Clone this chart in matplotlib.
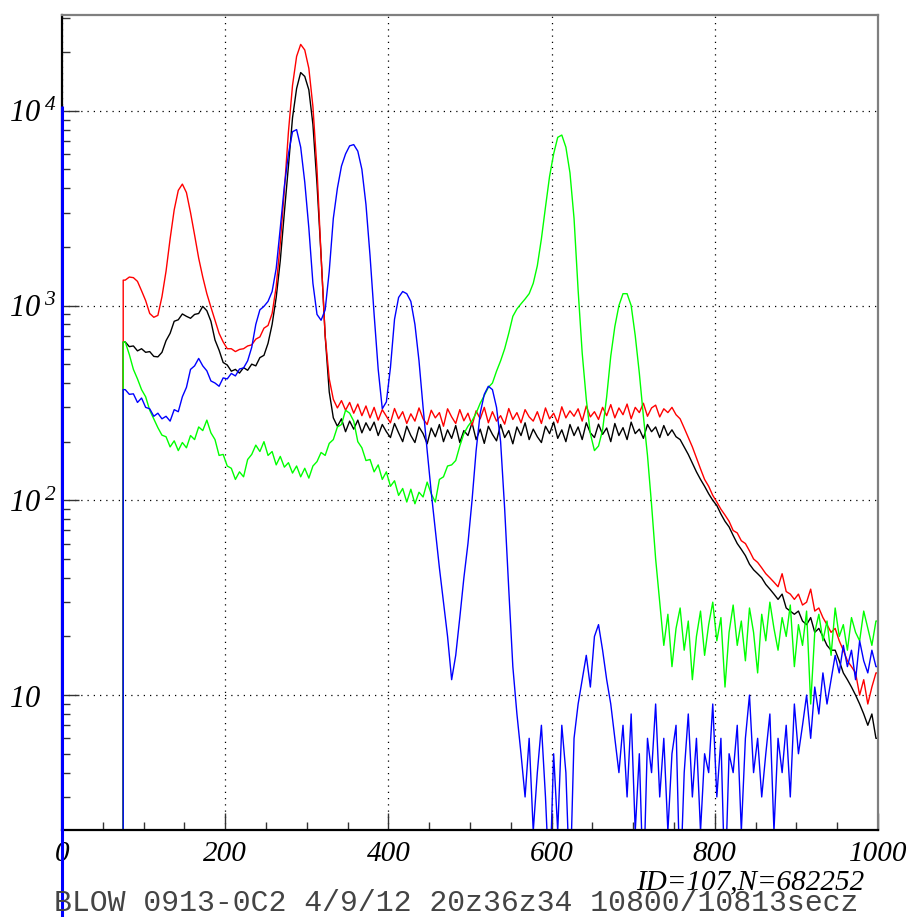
import numpy as np
import matplotlib
matplotlib.use("Agg")
from matplotlib import pyplot as plt
from matplotlib.ticker import FixedLocator, LogLocator, MultipleLocator, NullFormatter, FuncFormatter

plt.rcParams["mathtext.fontset"] = "custom"
plt.rcParams["mathtext.it"] = "Liberation Serif:italic"
plt.rcParams["mathtext.rm"] = "Liberation Serif:italic"

# histogram binning (5 channels per bin, channels 75..1000)
edges = np.arange(75, 1001, 5)

red = [
    1350, 1400, 1390, 1330, 1190, 1060, 910, 870, 890, 1110,
    1500, 2200, 3100, 3900, 4200, 3800, 3000, 2300, 1750, 1400,
    1150, 980, 840, 720, 650, 600, 600, 580, 595, 600,
    620, 628, 672, 690, 765, 790, 910, 1250, 2100, 3900,
    7800, 13500, 19000, 21900, 20500, 16500, 10500, 5000, 1800, 700,
    420, 330, 298, 325, 290, 318, 280, 312, 272, 305,
    265, 300, 258, 292, 270, 250, 296, 262, 285, 248,
    278, 255, 298, 262, 245, 290, 265, 282, 240, 295,
    268, 248, 292, 256, 280, 242, 288, 262, 300, 250,
    285, 255, 272, 246, 296, 260, 282, 250, 292, 268,
    255, 285, 248, 298, 262, 280, 250, 302, 265, 288,
    270, 295, 255, 305, 268, 285, 260, 300, 272, 310,
    265, 298, 275, 312, 262, 300, 282, 315, 270, 298,
    308, 268, 295, 282, 300, 275, 262, 235, 210, 188,
    165, 145, 128, 118, 106, 98, 90, 84, 78, 70,
    68, 62, 60, 55, 50, 48, 45, 42, 40, 38,
    36, 42, 34, 33, 31, 33, 29, 30, 35, 27,
    28, 25, 23, 21, 22, 19, 17, 15, 14, 13,
    10, 12, 9, 11, 13,
]

black = [
    650, 615, 620, 585, 600, 575, 580, 548, 545, 575,
    660, 720, 830, 845, 905, 880, 860, 900, 910, 990,
    940, 830, 665, 590, 510, 495, 460, 470, 450, 480,
    465, 500, 490, 540, 555, 640, 800, 1100, 1700, 3000,
    5200, 9200, 13000, 15700, 15000, 12800, 8500, 4200, 1800, 700,
    360, 265, 240, 262, 225, 255, 232, 258, 222, 250,
    228, 252, 215, 245, 225, 210, 248, 222, 200, 240,
    215, 198, 238, 220, 195, 235, 212, 245, 200, 230,
    208, 242, 198, 228, 215, 250, 205, 232, 196, 240,
    218, 202, 245, 210, 228, 195, 238, 215, 250, 205,
    232, 212, 198, 240, 220, 252, 208, 230, 200, 245,
    215, 238, 205, 250, 222, 210, 246, 218, 235, 200,
    248, 215, 236, 205, 252, 220, 232, 208, 245, 225,
    238, 210, 242, 215, 230, 212, 205, 188, 172, 155,
    140, 128, 118, 108, 100, 94, 85, 78, 73, 66,
    60, 56, 52, 47, 44, 42, 40, 37, 35, 33,
    31, 33, 28, 27, 26, 27, 24, 23, 25, 21,
    22, 20, 18, 17, 17, 15, 13, 12, 11, 10,
    9, 8, 7, 8, 6,
]

blue = [
    370, 350, 352, 318, 335, 300, 295, 270, 280, 262,
    270, 255, 292, 285, 340, 380, 470, 490, 535, 490,
    462, 410, 400, 385, 425, 420, 448, 435, 472, 478,
    520, 610, 800, 950, 990, 1050, 1180, 1550, 2500, 4100,
    6000, 7800, 8000, 6500, 4300, 2500, 1300, 900, 840, 950,
    1500, 2800, 4000, 5200, 6000, 6600, 6700, 6200, 5000, 3300,
    1800, 900, 470, 295, 320, 480, 850, 1100, 1180, 1150,
    1050, 800, 520, 300, 180, 110, 70, 45, 30, 20,
    12, 16, 25, 40, 60, 100, 180, 280, 350, 385,
    370, 300, 200, 90, 35, 14, 8, 5, 3, 6,
    2, 4, 7, 3, 1, 5, 2, 7, 4, 1,
    6, 9, 12, 16, 11, 20, 23, 17, 12, 9,
    6, 4, 7, 3, 8, 2, 5, 1, 6, 4,
    9, 3, 6, 2, 5, 7, 1, 4, 8, 3,
    6, 2, 5, 4, 9, 3, 6, 1, 5, 4,
    7, 2, 6, 10, 4, 6, 3, 5, 8, 2,
    6, 4, 7, 3, 9, 5, 7, 10, 6, 11,
    8, 13, 9, 12, 16, 13, 18, 14, 17, 12,
    19, 15, 13, 17, 14,
]
blue_channel0 = 10600

green = [
    650, 560, 470, 420, 370, 340, 290, 262, 236, 216,
    212, 188, 202, 180, 198, 186, 215, 205, 238, 228,
    258, 222, 205, 170, 172, 150, 146, 128, 140, 132,
    162, 172, 192, 178, 200, 170, 178, 152, 168, 148,
    156, 138, 150, 132, 146, 130, 150, 158, 176, 170,
    196, 205, 238, 245, 290, 280, 255, 200, 186, 160,
    162, 140, 152, 128, 140, 118, 126, 106, 115, 98,
    114, 96, 110, 104, 124, 108, 98, 128, 132, 150,
    152, 160, 190, 220, 240, 256, 280, 315, 345, 380,
    400, 460, 520, 600, 720, 880, 960, 1020, 1080, 1150,
    1300, 1600, 2200, 3200, 4600, 6000, 7300, 7500, 6500, 4800,
    2800, 1200, 570, 330, 220, 180, 190, 230, 340, 550,
    780, 1000, 1150, 1150, 1000, 700, 450, 270, 170, 95,
    50, 30, 18, 26, 14, 22, 28, 17, 24, 12,
    20, 27, 16, 23, 30, 19, 25, 11, 21, 29,
    18, 24, 15, 28, 21, 13, 26, 19, 30, 22,
    17, 25, 20, 29, 14, 23, 18, 27, 9, 21,
    26, 19, 24, 16, 28, 20, 23, 17, 25, 21,
    19, 27, 22, 18, 24,
]

xticks = [0, 200, 400, 600, 800, 1000]
yticks = [10, 100, 1000, 10000]
floor = 0.1  # below the visible range, like empty channels

W, H = 911, 917
fig = plt.figure(figsize=(W / 100, H / 100), dpi=100)
ax = fig.add_axes([62 / W, 1 - 830 / H, 816 / W, 815 / H])
ax.set_yscale("log")

centers = edges[:-1] + 2.5
for vals, col in [(black, "black"), (red, "#ff0000"), (green, "#00ff00"), (blue, "#0000ff")]:
    xs = np.r_[edges[0], edges[0], centers, edges[-1]]
    ys = np.r_[floor, vals[0], vals, vals[-1]]
    ax.plot(xs, ys, color=col, lw=1.0)
ax.vlines(0, floor, blue_channel0, color="#0000ff", lw=2.2, clip_on=False, zorder=5)

ax.set_xlim(0, 1000)
ax.set_ylim(2.03, 31000)

ax.xaxis.set_major_locator(FixedLocator(xticks))
ax.xaxis.set_minor_locator(MultipleLocator(50))
ax.yaxis.set_major_locator(FixedLocator(yticks))
ax.yaxis.set_minor_locator(LogLocator(base=10, subs=range(2, 10)))
ax.yaxis.set_minor_formatter(NullFormatter())


def ylab(v, pos):
    n = int(round(np.log10(v)))
    return r"$10$" if n == 1 else r"$10^{\;%d}$" % n


ax.yaxis.set_major_formatter(FuncFormatter(ylab))
ax.tick_params(which="both", direction="in", color="#333333", width=1.0)
ax.tick_params(which="major", length=12)
ax.tick_params(which="minor", length=6)
ax.tick_params(axis="x", pad=8)
ax.tick_params(axis="y", pad=38)
for lab in ax.get_xticklabels():
    lab.set_fontfamily("Liberation Serif")
    lab.set_fontstyle("italic")
    lab.set_fontsize(21)
for lab in ax.get_yticklabels():
    lab.set_fontsize(22)
    lab.set_horizontalalignment("left")

ax.grid(True, which="major", color="black", ls=(0, (1, 4)), lw=0.9)

for side in ["left", "bottom"]:
    ax.spines[side].set_color("black")
    ax.spines[side].set_linewidth(1.6)
for side in ["top", "right"]:
    ax.spines[side].set_color("#7f7f7f")
    ax.spines[side].set_linewidth(1.6)

fig.text(636 / W, 1 - 889 / H, "ID=107,N=682252", family="Liberation Serif",
         style="italic", fontsize=21, ha="left", va="baseline")
fig.text(54 / W, 1 - 911 / H, "BLOW 0913-0C2 4/9/12 20z36z34 10800/10813secz",
         family="Liberation Mono", fontsize=21.5, ha="left",
         va="baseline", color="#444444")

fig.savefig("out.png", dpi=100)
